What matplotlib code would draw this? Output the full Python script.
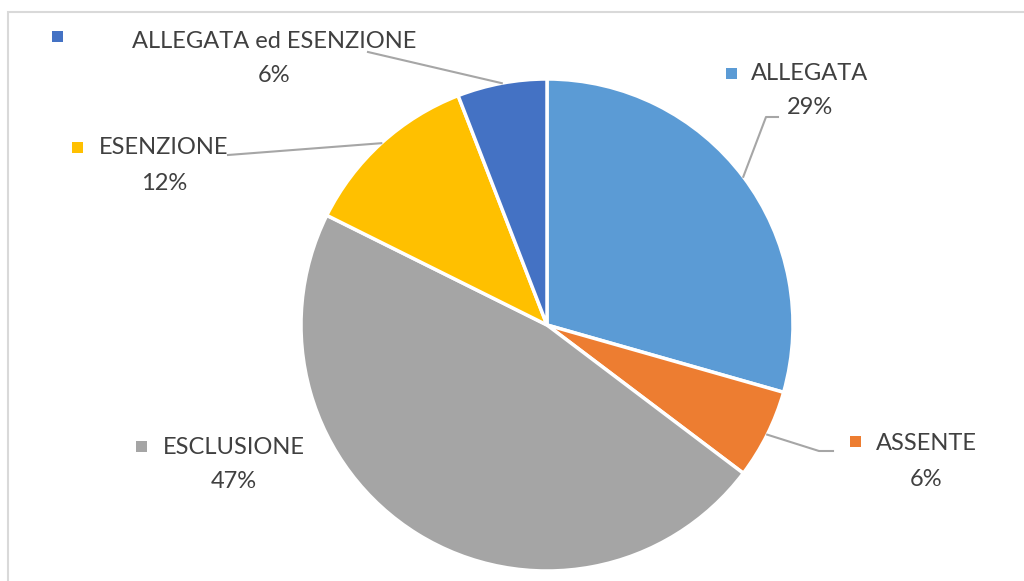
import matplotlib
matplotlib.use("Agg")
import matplotlib.pyplot as plt
from matplotlib.patches import Rectangle
import numpy as np

# ---- data ----
categories = ["ALLEGATA", "ASSENTE", "ESCLUSIONE", "ESENZIONE", "ALLEGATA ed ESENZIONE"]
values = [5, 1, 8, 2, 1]
colors = ["#5B9BD5", "#ED7D31", "#A5A5A5", "#FFC000", "#4472C4"]

# ---- layout (pixel coords, y from top) ----
W, H = 1024, 581
center_px = (547, 325)
radius_px = 246
# (text center x, name y, pct y, marker x, marker y)
label_layout = [
    (810, 74, 108, 731, 73),
    (926, 444, 480, 855, 441),
    (234, 447, 482, 141, 446),
    (164, 147, 183, 77, 147),
    (274, 41, 75, 57, 36),
]
# leader line elbow/end points (pixel coords)
leader_ends = [
    [(766, 117), (778, 117)],
    [(819, 451), (833, 451)],
    None,
    [(228, 155)],
    [(368, 52)],
]

fig = plt.figure(figsize=(W / 100, H / 100), dpi=100)
ax = fig.add_axes([0, 0, 1, 1])

def Y(py):
    return H - py

wedges, _ = ax.pie(values, colors=colors, startangle=90, counterclock=False,
                   center=(center_px[0], Y(center_px[1])), radius=radius_px,
                   wedgeprops=dict(edgecolor="white", linewidth=2.5))
ax.set_xlim(0, W)
ax.set_ylim(0, H)
ax.set_aspect("equal")
ax.axis("off")

# chart border
ax.add_patch(Rectangle((8, Y(1000)), 1100, 1000 - 12, fill=False,
                       edgecolor="#D9D9D9", linewidth=1.5, zorder=0))

font = "Lato"
tc = "#404040"
total = sum(values)
for i, (cat, v) in enumerate(zip(categories, values)):
    tx, ny, py, mx, my = label_layout[i]
    ax.text(tx, Y(ny), cat, ha="center", va="center", fontsize=17,
            color=tc, family=font)
    ax.text(tx, Y(py), f"{round(v / total * 100)}%", ha="center", va="center",
            fontsize=17, color=tc, family=font)
    s = 11
    ax.add_patch(Rectangle((mx - s / 2, Y(my) - s / 2), s, s,
                           facecolor=colors[i], edgecolor="none"))
    if leader_ends[i] is not None:
        w = wedges[i]
        th = np.deg2rad((w.theta1 + w.theta2) / 2)
        cx, cy = w.center
        sx = cx + w.r * np.cos(th)
        sy = cy + w.r * np.sin(th)
        xs = [sx] + [p[0] for p in leader_ends[i]]
        ys = [sy] + [Y(p[1]) for p in leader_ends[i]]
        ax.plot(xs, ys, color="#A6A6A6", linewidth=1.5, zorder=3)

fig.savefig("out.png", dpi=100)
